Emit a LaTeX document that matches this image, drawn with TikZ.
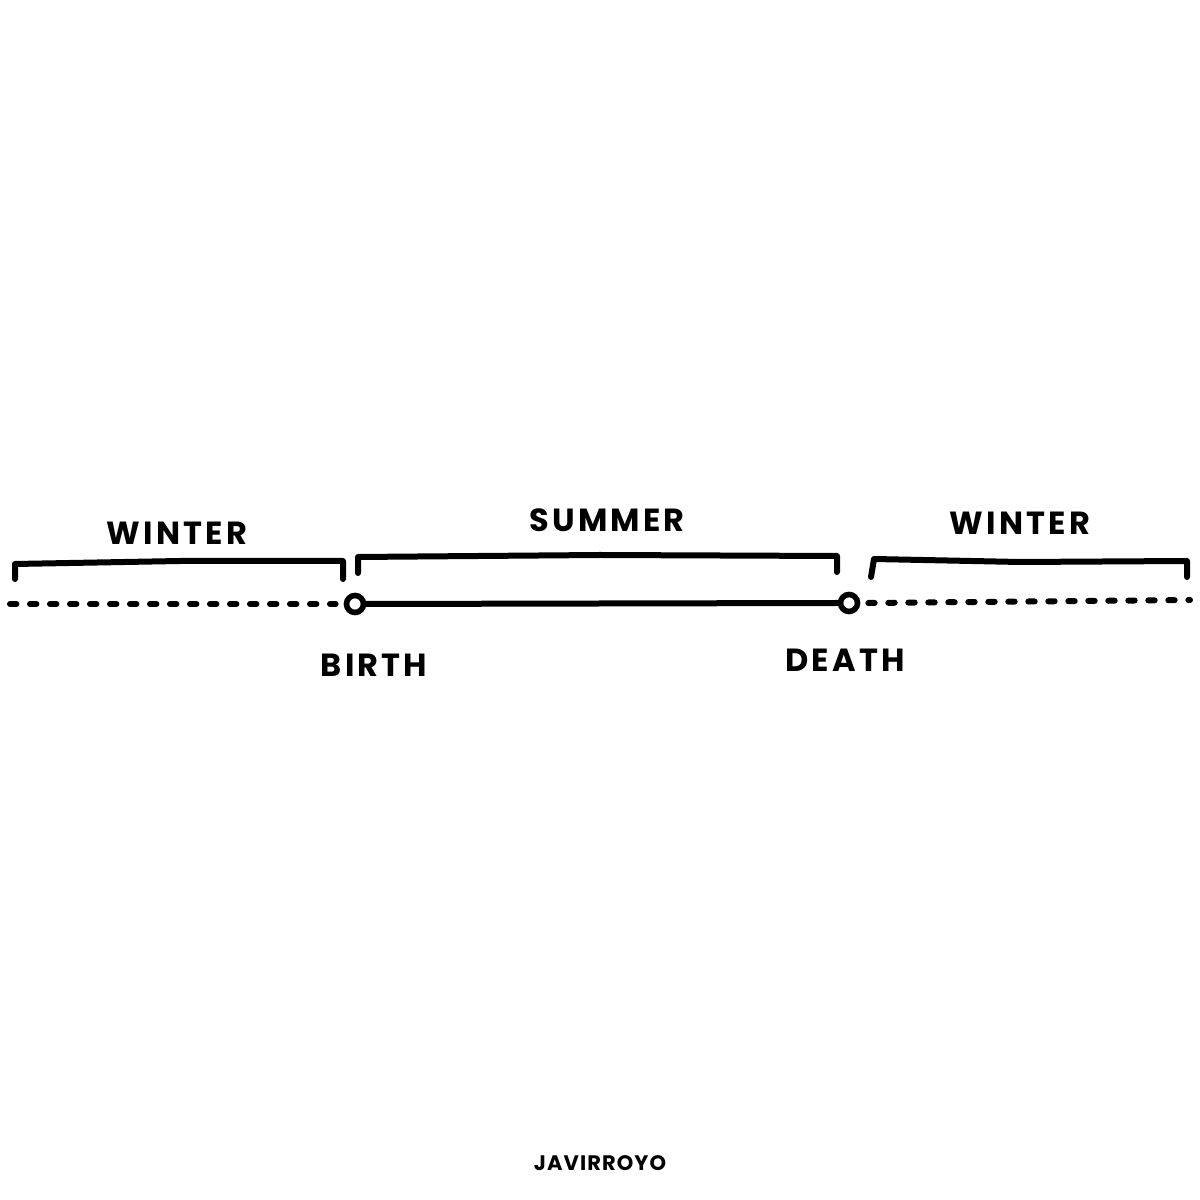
\documentclass[tikz,border=0pt]{standalone}
\usepackage{fontspec}
\setmainfont{Poppins}
\usetikzlibrary{positioning}

\tikzset{
  ink/.style={line width=3pt, line cap=round, line join=round},
  dots/.style={ink, dash pattern=on 3.2pt off 6.8pt},
  dotnode/.style={circle, draw, line width=2.8pt, minimum size=8.5pt, inner sep=0pt},
  tag/.style={font=\bfseries\fontsize{16}{18}\selectfont\addfontfeature{LetterSpace=10}},
  sign/.style={font=\bfseries\fontsize{10.5}{12}\selectfont\addfontfeature{LetterSpace=5}}
}

\begin{document}
\begin{tikzpicture}[x=0.5pt,y=0.5pt]
  \path[use as bounding box] (0,0) rectangle (1200,1200);
  \fill[white] (0,0) rectangle (1200,1200);

  % timeline
  \coordinate (start) at (10,596);
  \coordinate (stop) at (1190,600);
  \node[dotnode] (birth) at (355,596) {};
  \node[dotnode] (death) at (849,597) {};
  \draw[dots] (start) -- ([xshift=-4pt]birth.west);
  \draw[ink] (birth.east) -- (death.west);
  \draw[dots] ([xshift=4pt]death.east) -- (stop);

  % brackets
  \draw[ink] (15,621) -- (15,636) -- (180,639) -- (343,639) -- (343,621);
  \draw[ink] (358,627) -- (358,643) -- (600,645) -- (837,644) -- (837,628);
  \draw[ink] (871,623) -- (874,641) -- (1020,638) -- (1187,639) -- (1187,623);

  % labels
  \node[tag] (winterA) at (177,667) {WINTER};
  \node[tag] (summer) at (607,680) {SUMMER};
  \node[tag] (winterB) at (1020,677) {WINTER};
  \node[tag] (birthlbl) at (374,535) {BIRTH};
  \node[tag] (deathlbl) at (845,540) {DEATH};
  \node[sign] (author) at (600,37) {JAVIRROYO};
\end{tikzpicture}
\end{document}
